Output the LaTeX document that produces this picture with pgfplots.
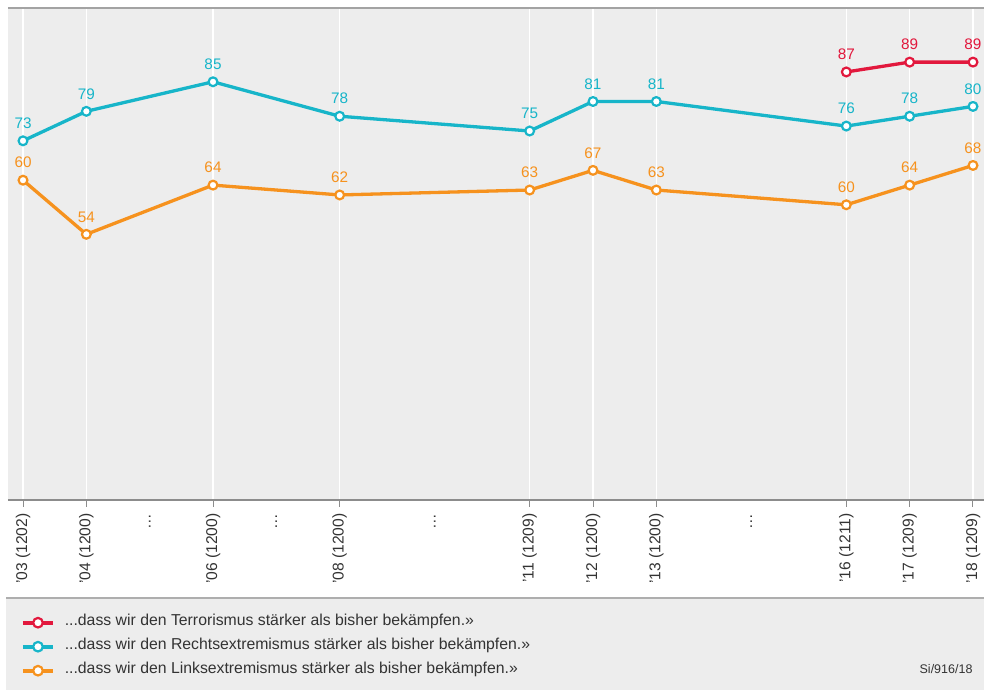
\documentclass[border=0pt]{standalone}
\usepackage{fontspec}
\setmainfont{Liberation Sans}
\usepackage{pgfplots}
\usepackage{pgfplotstable}
\pgfplotsset{compat=1.18}
\definecolor{cred}{HTML}{E2183D}
\definecolor{ccyan}{HTML}{17B5C9}
\definecolor{corange}{HTML}{F6921E}
\definecolor{bggray}{HTML}{EDEDED}
\definecolor{linegray}{HTML}{8C8C8C}
\definecolor{txt}{HTML}{333333}

\pgfplotstableread{
x y lab
2016 87 87
2017 89 89
2018 89 89
}\terror
\pgfplotstableread{
x y lab
2003 73 73
2004 79 79
2006 85 85
2008 78 78
2011 75 75
2012 81 81
2013 81 81
2016 76 76
2017 78 78
2018 80 80
}\rechts
\pgfplotstableread{
x y lab
2003 65 60
2004 54 54
2006 64 64
2008 62 62
2011 63 63
2012 67 67
2013 63 63
2016 60 60
2017 64 64
2018 68 68
}\links

\begin{document}
\begin{tikzpicture}[x=1pt,y=1pt]
\useasboundingbox (0,0) rectangle (984,690);
\fill[bggray] (6,0) rectangle (984,92);
\draw[linegray!70, line width=1.5pt] (6,92) -- (984,92);
\begin{axis}[
  at={(8pt,190pt)}, anchor=south west,
  scale only axis, width=976pt, height=492pt,
  xmin=2002.763, xmax=2018.174, ymin=0, ymax=100,
  clip=false,
  axis background/.style={fill=bggray},
  axis x line*=bottom, axis y line=none,
  x axis line style={linegray, line width=2.5pt, -},
  ytick=\empty,
  xtick={2003,2004,2006,2008,2011,2012,2013,2016,2017,2018},
  xticklabels={’03 (1202),’04 (1200),’06 (1200),’08 (1200),’11 (1209),’12 (1200),’13 (1200),’16 (1211),’17 (1209),’18 (1209)},
  extra x ticks={2005,2007,2009.5,2014.5},
  extra x tick labels={…,…,…,…},
  extra x tick style={grid=none, major tick style={draw=none}, tick label style={font=\fontsize{19}{19}\selectfont}},
  tick align=outside, major tick length=7pt,
  tick style={linegray, line width=1pt},
  xticklabel shift=3pt,
  x tick label style={rotate=90, anchor=east, font=\fontsize{15.6}{18}\selectfont, text=txt},
  xmajorgrids, grid style={white, line width=1.5pt},
  every axis plot/.append style={line width=3.3pt, mark=*, mark size=4.4pt},
  point meta=explicit symbolic,
  nodes near coords={\pgfplotspointmeta},
  nodes near coords style={anchor=south, inner sep=0pt, yshift=11pt, font=\fontsize{15.3}{18}\selectfont},
  legend cell align=left,
  legend image code/.code={\draw[mark repeat=2,mark phase=2,#1, line width=3.6pt, mark size=4.8pt] plot coordinates {(0pt,0pt) (15pt,0pt) (30pt,0pt)};},
  legend style={at={(0.0133,-0.2368)}, anchor=north west, draw=none, fill=none,
    inner sep=0pt, row sep=12pt, column sep=9pt,
    nodes={inner sep=1pt, text depth=0.25em, text height=0.75em, text=txt},
    font=\fontsize{15.8}{18}\selectfont},
]
\addplot[cred, mark options={fill=white, draw=cred, line width=2.2pt}, nodes near coords style={text=cred}] table[x=x, y=y, meta=lab] {\terror};
\addlegendentry{...dass wir den Terrorismus stärker als bisher bekämpfen.»}
\addplot[ccyan, mark options={fill=white, draw=ccyan, line width=2.2pt}, nodes near coords style={text=ccyan}] table[x=x, y=y, meta=lab] {\rechts};
\addlegendentry{...dass wir den Rechtsextremismus stärker als bisher bekämpfen.»}
\addplot[corange, mark options={fill=white, draw=corange, line width=2.2pt}, nodes near coords style={text=corange}] table[x=x, y=y, meta=lab] {\links};
\addlegendentry{...dass wir den Linksextremismus stärker als bisher bekämpfen.»}
\draw[linegray!80, line width=1.5pt] (rel axis cs:0,1) -- (rel axis cs:1,1);
\end{axis}
\node[anchor=east, font=\fontsize{12.5}{14}\selectfont, text=txt] at (976,21) {Si/916/18};
\end{tikzpicture}
\end{document}
